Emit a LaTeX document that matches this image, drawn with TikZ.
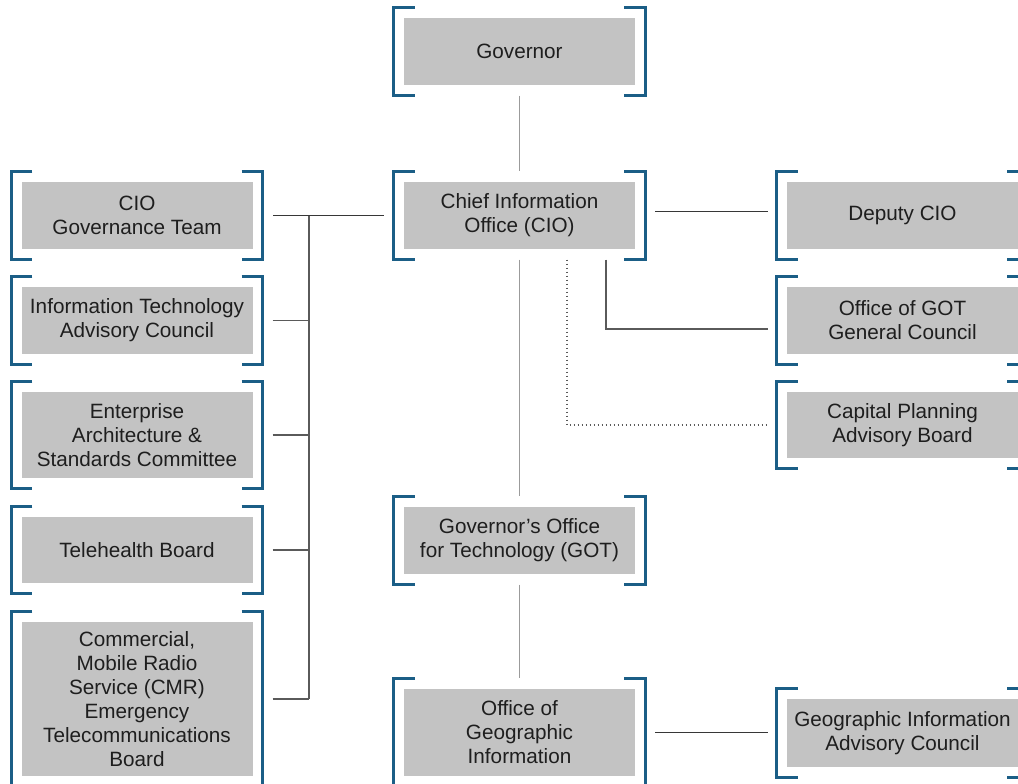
\documentclass[tikz,border=0pt]{standalone}
\usepackage{fontspec}
\setmainfont{Liberation Sans}
\usetikzlibrary{calc}

\definecolor{brkblue}{RGB}{27,94,134}
\definecolor{boxgray}{RGB}{195,195,195}
\definecolor{txtgray}{RGB}{30,30,30}
\definecolor{linedark}{RGB}{55,55,55}
\definecolor{linemid}{RGB}{90,90,90}
\definecolor{linelight}{RGB}{155,155,155}

% square brackets drawn around a gray box
\newcommand\bracketbox[1]{%
  \draw[brk] ($(#1.north west)+(11,-10.5)$) -- ($(#1.north west)+(-10,-10.5)$)
             -- ($(#1.south west)+(-10,10.5)$) -- ($(#1.south west)+(11,10.5)$);
  \draw[brk] ($(#1.north east)+(-11,-10.5)$) -- ($(#1.north east)+(10,-10.5)$)
             -- ($(#1.south east)+(10,10.5)$) -- ($(#1.south east)+(-11,10.5)$);
}

\begin{document}
\begin{tikzpicture}[x=1pt,y=-1pt,
  box/.style={fill=boxgray, minimum width=231pt, minimum height=67pt,
    inner sep=0pt, align=center, text=txtgray,
    font=\fontsize{20.7}{24}\selectfont},
  brk/.style={draw=brkblue, line width=2.8pt, miter limit=10},
  link/.style={draw=linedark, line width=1.1pt},
  trunk/.style={draw=linemid, line width=1.1pt},
  spine/.style={draw=linelight, line width=1.1pt},
  dotlink/.style={draw=linemid, line width=1.1pt, dash pattern=on 1.1pt off 2.9pt}]
\useasboundingbox (0,0) rectangle (1018,784);
\clip (0,0) rectangle (1018,784);

% centre column
\node[box] (gov) at (519.5,51.5) {Governor};
\node[box] (cio) at (519.5,215.5) {Chief Information\\Office (CIO)};
\node[box] (got) at (519.5,540.5) {Governor's Office\\for Technology (GOT)};
\node[box, minimum height=87pt] (ogi) at (519.5,732.5) {Office of\\Geographic\\Information};

% left column
\node[box] (gteam) at (137,215.5) {CIO\\Governance Team};
\node[box] (itac) at (137,320.5) {Information Technology\\Advisory Council};
\node[box, minimum height=86pt] (ea) at (137,435) {Enterprise\\Architecture \&\\Standards Committee};
\node[box, minimum height=66pt] (tele) at (137,550) {Telehealth Board};
\node[box, minimum height=154pt] (cmr) at (137,699) {Commercial,\\Mobile Radio\\Service (CMR)\\Emergency\\Telecommunications\\Board};

% right column
\node[box] (deputy) at (902.5,215.5) {Deputy CIO};
\node[box] (gc) at (902.5,320.5) {Office of GOT\\General Council};
\node[box, minimum height=66pt] (cpab) at (902.5,425) {Capital Planning\\Advisory Board};
\node[box, minimum height=68pt] (giac) at (902.5,733) {Geographic Information\\Advisory Council};

\foreach \n in {gov,cio,got,ogi,gteam,itac,ea,tele,cmr,deputy,gc,cpab,giac}{\bracketbox{\n}}

% vertical chain in the centre
\draw[spine, shorten <=10.5pt, shorten >=10.5pt] (gov.south) -- (cio.north);
\draw[spine, shorten <=10.5pt, shorten >=10.5pt] (cio.south) -- (got.north);
\draw[spine, shorten <=10.5pt, shorten >=10.5pt] (got.south) -- (ogi.north);

% committees on the left
\coordinate (trunk) at (309,215.5);
\coordinate (trunkend) at (309,699);
\draw[link, shorten <=20pt, shorten >=20pt] (cio.west) -- (gteam.east);
\draw[trunk] (trunk) -- (trunkend);
\foreach \n in {itac,ea,tele,cmr}{
  \draw[trunk, shorten <=20pt] (\n.east) -- (\n.east -| trunk);
}

% offices on the right
\draw[link, shorten <=20pt, shorten >=19pt] ([yshift=4pt]cio.east) -- ([yshift=4pt]deputy.west);
\draw[trunk, shorten <=10.5pt, shorten >=19pt] ([xshift=86.5pt]cio.south) |- ([yshift=-8.5pt]gc.west);
\draw[dotlink, shorten <=10.5pt, shorten >=19pt] ([xshift=47.5pt]cio.south) |- (cpab.west);
\draw[link, shorten <=20pt, shorten >=19pt] (ogi.east) -- (ogi.east -| giac.west);
\end{tikzpicture}
\end{document}
